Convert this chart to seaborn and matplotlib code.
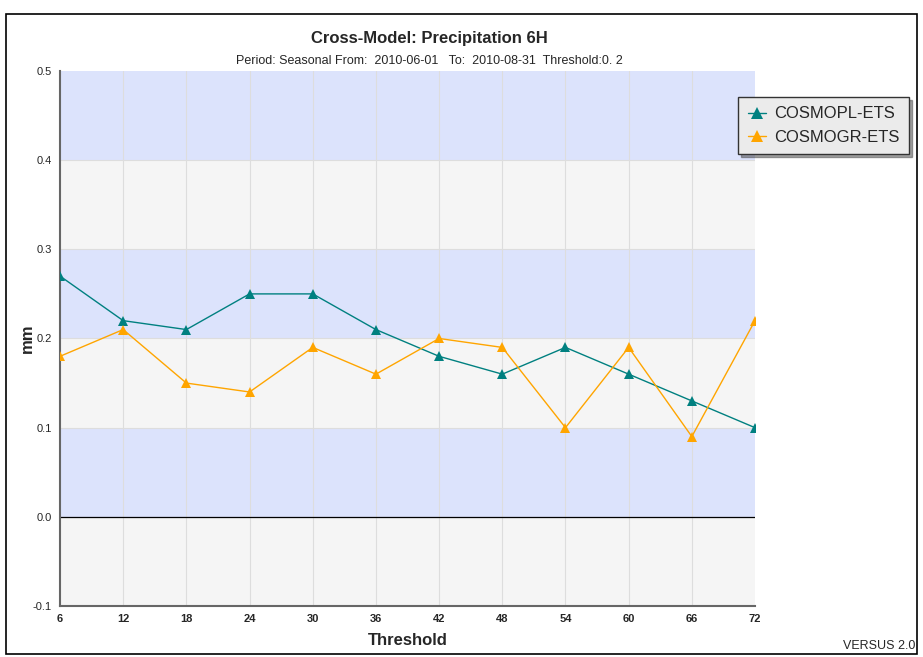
import matplotlib
matplotlib.use("Agg")
import matplotlib.pyplot as plt
import seaborn as sb
import pandas as pd
from matplotlib.patches import Rectangle

# data
thresholds = [6, 12, 18, 24, 30, 36, 42, 48, 54, 60, 66, 72]
cosmopl_ets = [0.27, 0.22, 0.21, 0.25, 0.25, 0.21, 0.18, 0.16, 0.19, 0.16, 0.13, 0.10]
cosmogr_ets = [0.18, 0.21, 0.15, 0.14, 0.19, 0.16, 0.20, 0.19, 0.10, 0.19, 0.09, 0.22]
series_names = ["COSMOPL-ETS", "COSMOGR-ETS"]
series_colors = ["#008080", "#ffa500"]
y_ticks = [-0.1, 0.0, 0.1, 0.2, 0.3, 0.4, 0.5]

df = pd.DataFrame({
    "Threshold": thresholds * 2,
    "mm": cosmopl_ets + cosmogr_ets,
    "Model": [series_names[0]] * len(thresholds) + [series_names[1]] * len(thresholds),
})

sb.set_style("white")
plt.rcParams["font.family"] = ["Liberation Sans", "DejaVu Sans"]

fig = plt.figure(figsize=(9.23, 6.57), dpi=100)
ax = fig.add_axes([0.065, 0.0776, 0.753, 0.8144])

# alternating band background
for i in range(len(y_ticks) - 1):
    lo, hi = y_ticks[i], y_ticks[i + 1]
    col = "#dce3fc" if i % 2 == 1 else "#f5f5f5"
    ax.axhspan(lo, hi, color=col, zorder=0, lw=0)
for y in y_ticks[1:-1]:
    ax.axhline(y, color="#dddddd", lw=0.8, zorder=0.5)
for x in thresholds[1:-1]:
    ax.axvline(x, color="#dddddd", lw=0.8, zorder=0.5)
ax.axhline(0.0, color="black", lw=0.9, zorder=1)

sb.lineplot(data=df, x="Threshold", y="mm", hue="Model", palette=series_colors,
            marker="^", markersize=7, markeredgewidth=0, lw=1, ax=ax, legend=False, zorder=3)

ax.set_xlim(6, 72)
ax.set_ylim(-0.1, 0.5)
ax.set_xticks(thresholds)
ax.set_xticklabels([str(t) for t in thresholds], fontsize=8, fontweight="bold")
ax.set_yticks(y_ticks)
ax.set_yticklabels([f"{v:.1f}" for v in y_ticks], fontsize=8)
ax.tick_params(axis="both", length=4, width=0.8, color="#555555", pad=2, direction="out")
for side in ["top", "right"]:
    ax.spines[side].set_visible(False)
ax.spines["left"].set_color("#666666")
ax.spines["bottom"].set_color("#666666")
ax.spines["left"].set_linewidth(1.5)
ax.spines["bottom"].set_linewidth(1.5)

ax.set_xlabel("Threshold", fontsize=12, fontweight="bold", labelpad=6)
ax.set_ylabel("mm", fontsize=12, fontweight="bold", labelpad=-2)

fig.text(0.465, 0.934, "Cross-Model: Precipitation 6H", ha="center", fontsize=12, fontweight="bold")
fig.text(0.465, 0.903, "Period: Seasonal From:  2010-06-01   To:  2010-08-31  Threshold:0. 2",
         ha="center", fontsize=9)
fig.text(0.992, 0.008, "VERSUS 2.0", ha="right", va="bottom", fontsize=9)

# legend box
handles = [plt.Line2D([], [], color=c, marker="^", markersize=8, lw=1, markeredgewidth=0)
           for c in series_colors]
leg = fig.legend(handles, series_names, loc="upper left", bbox_to_anchor=(0.8, 0.852),
                 borderaxespad=0, fontsize=12, frameon=True, fancybox=False, shadow=True,
                 handlelength=1.1, handletextpad=0.5, borderpad=0.55, labelspacing=0.5)
leg.get_frame().set_facecolor("#ebebeb")
leg.get_frame().set_edgecolor("#333333")

# outer border
fig.patches.append(Rectangle((0.006, 0.004), 0.988, 0.974, transform=fig.transFigure,
                             fill=False, edgecolor="black", lw=1.2))

fig.savefig("out.png", dpi=100)
